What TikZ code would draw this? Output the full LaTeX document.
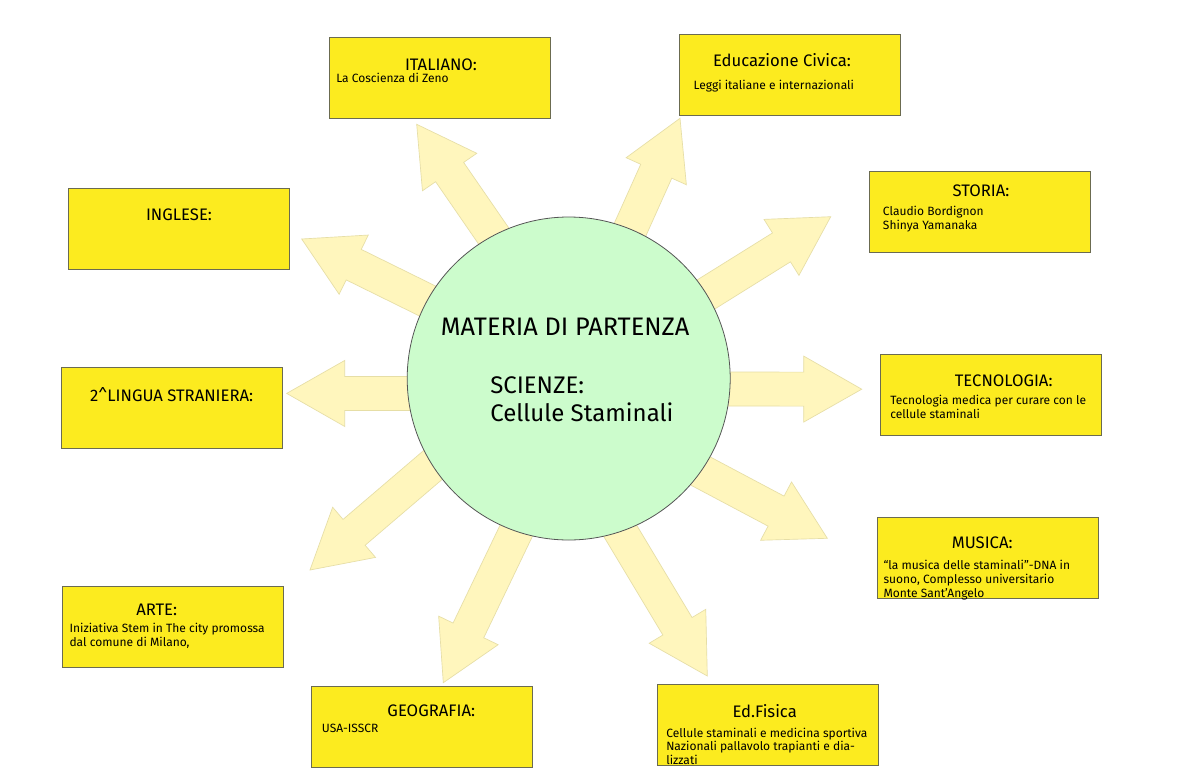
\documentclass[tikz,border=0pt]{standalone}
\usepackage{fontspec}
\setmainfont{Fira Sans}
\usetikzlibrary{calc}
\definecolor{boxy}{HTML}{FCEB1F}
\definecolor{boxline}{HTML}{6B6B50}
\definecolor{arrowfill}{HTML}{FFF6BD}
\definecolor{arrowline}{HTML}{E6DEA6}
\definecolor{circfill}{HTML}{CCFCCC}
\definecolor{circline}{HTML}{555555}
\newcommand{\fatarrow}[3]{%
  \coordinate (#1-b) at #2;
  \coordinate (#1-t) at #3;
  \coordinate (#1-s) at ($(#1-b)!-18.75pt!(#1-t)$);
  \coordinate (#1-h) at ($(#1-t)!43.5pt!(#1-b)$);
  \filldraw[fatarrow] ($(#1-s)!12.75pt!90:(#1-t)$) -- ($(#1-h)!12.75pt!90:(#1-t)$)
    -- ($(#1-h)!24.75pt!90:(#1-t)$) -- (#1-t) -- ($(#1-h)!24.75pt!-90:(#1-t)$)
    -- ($(#1-h)!12.75pt!-90:(#1-t)$) -- ($(#1-s)!12.75pt!-90:(#1-t)$) -- cycle;
}
\tikzset{
  fatarrow/.style={fill=arrowfill, draw=arrowline, line width=0.5pt, line join=miter},
  subjbox/.style={draw=boxline, fill=boxy, line width=0.7pt, rectangle, inner sep=0pt,
    minimum width=165.75pt, minimum height=60.75pt},
  title/.style={anchor=base, inner sep=0pt, font=\fontsize{12.5}{15}\selectfont},
  body/.style={anchor=base west, inner sep=0pt, font=\fontsize{9}{10.5}\selectfont},
  core/.style={circle, draw=circline, fill=circfill, line width=0.6pt, inner sep=0pt,
    minimum size=242.25pt},
  big/.style={anchor=base west, inner sep=0pt, font=\fontsize{18}{21}\selectfont}
}
\begin{document}
\begin{tikzpicture}[x=0.75pt, y=-0.75pt]
\useasboundingbox (0,0) rectangle (1200,768);
\fill[white] (0,0) rectangle (1200,768);

% boxes
\node[subjbox] (ital) at (439.5,78) {};
\node[subjbox] (civ) at (790.25,74.75) {};
\node[subjbox] (ing) at (178.5,228.5) {};
\node[subjbox] (sto) at (980,211.75) {};
\node[subjbox] (lin) at (171.5,408) {};
\node[subjbox] (tec) at (991.25,394.5) {};
\node[subjbox] (mus) at (988,558.25) {};
\node[subjbox] (arte) at (172.5,626.5) {};
\node[subjbox] (geo) at (422,727) {};
\node[subjbox] (fis) at (768,724.75) {};

% arrows
\fatarrow{aital}{(493,235)}{(416.7,124.3)}
\fatarrow{aciv}{(631,227.5)}{(680,118.3)}
\fatarrow{asto}{(706.7,294)}{(830.7,216.7)}
\fatarrow{aing}{(427.5,301)}{(301.7,239)}
\fatarrow{alin}{(408,393.5)}{(286.7,393.4)}
\fatarrow{atec}{(729,389)}{(861.7,389.2)}
\fatarrow{amus}{(696.7,469)}{(827.3,538.3)}
\fatarrow{aarte}{(431.7,466)}{(310,570)}
\fatarrow{ageo}{(515.5,532.3)}{(443.3,682.7)}
\fatarrow{afis}{(616.7,525)}{(707.3,676)}

% centre
\node[core] (centre) at (568.7,378.5) {};
\node[big, font=\fontsize{19}{22}\selectfont] (c1) at (440.7,335) {MATERIA DI PARTENZA};
\node[big] (c2) at (490,393.3) {SCIENZE:};
\node[big] (c3) at (490,421.7) {Cellule Staminali};

% titles
\node[title] (t1) at (441,70) {ITALIANO:};
\node[title] (t2) at (782,66) {Educazione Civica:};
\node[title] (t3) at (981,196.7) {STORIA:};
\node[title] (t4) at (179,220) {INGLESE:};
\node[title] (t5) at (171.7,401.7) {2\textasciicircum LINGUA STRANIERA:};
\node[title] (t6) at (1003.7,386.7) {TECNOLOGIA:};
\node[title] (t7) at (982.2,548.3) {MUSICA:};
\node[title] (t8) at (156.7,615) {ARTE:};
\node[title] (t9) at (431.3,716) {GEOGRAFIA:};
\node[title] (t10) at (764.7,717.3) {Ed.Fisica};

% bodies
\node[body] (b1) at (336,82.3) {La Coscienza di Zeno};
\node[body] (b2) at (693.3,89.3) {Leggi italiane e internazionali};
\node[body] (b3a) at (882.7,215) {Claudio Bordignon};
\node[body] (b3b) at (882.7,229) {Shinya Yamanaka};
\node[body] (b6a) at (890,404.3) {Tecnologia medica per curare con le};
\node[body] (b6b) at (890,418.3) {cellule staminali};
\node[body] (b7a) at (883.3,569.3) {“la musica delle staminali”-DNA in};
\node[body] (b7b) at (883.3,583.3) {suono, Complesso universitario};
\node[body] (b7c) at (883.3,597.3) {Monte Sant’Angelo};
\node[body] (b8a) at (69.3,632.3) {Iniziativa Stem in The city promossa};
\node[body] (b8b) at (69.3,646) {dal comune di Milano,};
\node[body] (b9) at (321.7,732.3) {USA-ISSCR};
\node[body] (b10a) at (666,737.3) {Cellule staminali e medicina sportiva};
\node[body] (b10b) at (666,750.7) {Nazionali pallavolo trapianti e dia-};
\node[body] (b10c) at (666,764.5) {lizzati};
\end{tikzpicture}
\end{document}
